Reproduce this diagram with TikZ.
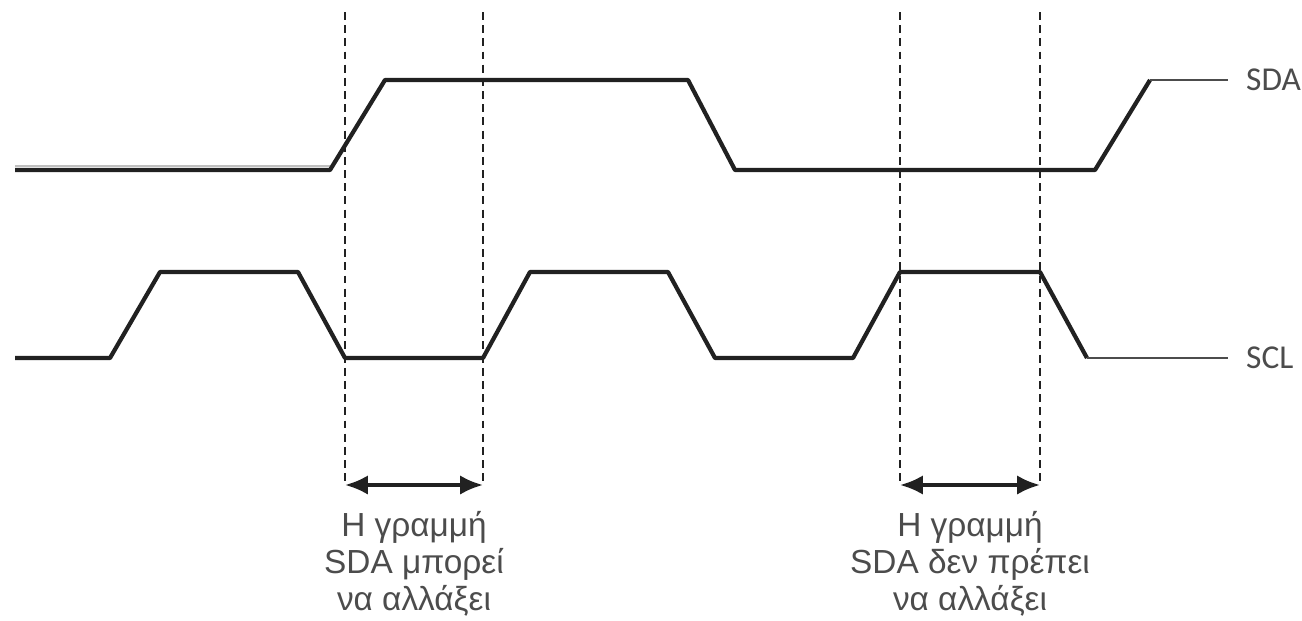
\documentclass[tikz,border=0pt]{standalone}
\usepackage{fontspec}
\setmainfont{Liberation Sans}
\newfontfamily\labelfont{Carlito}
\usepackage{xcolor}
\definecolor{SigBlack}{rgb}{0.13, 0.13, 0.13}
\definecolor{SigShade}{rgb}{0.75, 0.75, 0.75}
\definecolor{SigGray}{rgb}{0.3, 0.3, 0.3}
\usepackage{tikz}
\usetikzlibrary{calc, positioning, arrows.meta}

\begin{document}
\begin{tikzpicture}[
    x=0.02cm, y=-0.02cm,
    font=\fontsize{19}{21}\selectfont,
    signal/.style={SigBlack, line width=2.4pt, line join=round},
    tail/.style={SigGray, line width=1.1pt},
    marker/.style={SigBlack, line width=0.7pt, dash pattern=on 4.5pt off 3pt},
    window/.style={{Latex[length=13pt, width=11pt]}-{Latex[length=13pt, width=11pt]}, SigBlack, line width=2pt},
    sig_label/.style={anchor=west, font=\labelfont\fontsize{19}{21}\selectfont, text=SigGray},
    note/.style={align=center, text=SigGray, anchor=north}
]
    \useasboundingbox (0,0) rectangle (1302,620);

    % 1. SDA LINE
    \draw[SigShade, line width=1.6pt] (15,166) -- (330,166);
    \draw[signal] (15,170) -- (330,170) -- (385,80) -- (688,80) -- (735,170) -- (1095,170) -- (1150,80);
    \draw[tail] (1150,80) -- (1228,80) coordinate (sdaEnd);
    \node[sig_label] (sda) at ($(sdaEnd)+(12,0)$) {SDA};

    % 2. SCL LINE
    \draw[signal] (15,358) -- (110,358) -- (160,272) -- (298,272) -- (345,358) -- (483,358)
        -- (530,272) -- (668,272) -- (715,358) -- (853,358) -- (900,272) -- (1040,272) -- (1087,358);
    \draw[tail] (1087,358) -- (1228,358) coordinate (sclEnd);
    \node[sig_label] (scl) at ($(sclEnd)+(12,0)$) {SCL};

    % 3. TIMING MARKERS
    \foreach \name/\x in {mayA/345, mayB/483, mustA/900, mustB/1040} {
        \coordinate (\name top) at (\x,12);
        \coordinate (\name) at (\x,485);
        \draw[marker] (\name top) -- (\name);
    }

    % 4. WINDOWS
    \draw[window] (mayA) -- (mayB);
    \draw[window] (mustA) -- (mustB);
    \node[note] (mayText) at ($(mayA)!0.5!(mayB)+(0,20)$) {Η γραμμή\\SDA μπορεί\\να αλλάξει};
    \node[note] (mustText) at ($(mustA)!0.5!(mustB)+(0,20)$) {Η γραμμή\\SDA δεν πρέπει\\να αλλάξει};

\end{tikzpicture}
\end{document}
